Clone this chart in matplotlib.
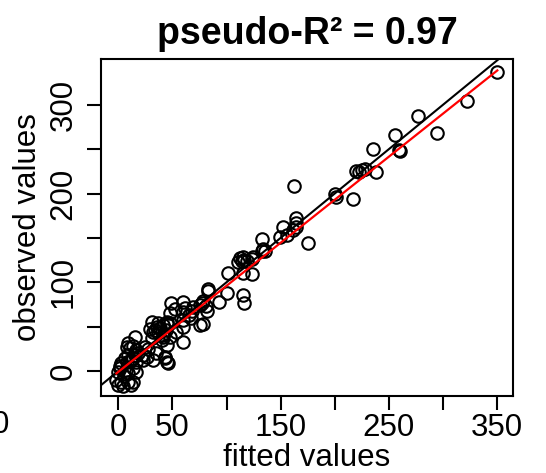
import numpy as np
import matplotlib.pyplot as plt

fitted = [350.3, 322.6, 276.7, 294.8, 255.7, 235.1, 259.4, 260.4, 219.7, 222.5,
          225.2, 228.0, 238.2, 200.3, 200.9, 216.9, 162.4, 163.8, 163.8, 164.2,
          161.2, 152.2, 155.5, 149.4, 175.6, 132.5, 134.0, 132.8, 136.0, 124.8,
          115.5, 112.5, 110.9, 114.0, 116.5, 118.7, 123.3, 101.1, 115.5, 123.3,
          115.5, 115.9, 100.2, 93.3, 83.2, 82.9, 78.6, 77.6, 81.1, 82.3,
          78.6, 67.8, 65.6, 66.9, 60.1, 60.1, 48.4, 47.8, 60.1, 47.8,
          60.1, 45.3, 44.7, 41.6, 47.8, 37.0, 35.5, 38.5, 33.9, 32.3,
          30.9, 29.3, 30.9, 41.6, 40.1, 44.7, 24.7, 27.7, 23.1, 26.2,
          23.1, 32.3, 44.7, 46.2, 43.2, 15.4, 9.2, 7.8, 10.8, 13.9,
          16.6, 18.2, 9.0, 12.0, 16.6, 5.9, 2.8, 1.3, -0.3, 7.4,
          13.6, 9.0, 16.6, -1.8, 2.8, 9.0, 13.6, -0.3, 4.3, 12.0,
          35.1, 42.9, 7.6, 15.4, 13.9, 1.6, 5.3, 52.1, 61.4, 69.0,
          75.2, 75.2, 53.6, 59.8, 36.7, 41.3, 44.4]
observed = [337.1, 304.7, 288.0, 267.8, 266.3, 250.8, 249.2, 248.0, 225.5, 224.7,
            226.6, 227.2, 224.4, 199.2, 195.6, 193.9, 208.9, 171.9, 166.3, 161.8,
            159.0, 162.0, 153.0, 151.4, 144.6, 148.6, 137.5, 134.7, 135.8, 128.0,
            128.2, 127.1, 123.2, 124.0, 124.6, 124.3, 125.9, 110.1, 110.1, 108.8,
            85.1, 77.0, 87.6, 78.1, 92.4, 90.5, 79.3, 76.3, 73.3, 67.6,
            53.2, 68.0, 63.1, 59.4, 77.8, 66.9, 76.7, 65.0, 57.5, 38.7,
            33.0, 55.6, 53.0, 51.9, 53.8, 53.8, 49.9, 48.1, 46.2, 44.3,
            55.6, 47.0, 36.9, 38.7, 34.9, 29.3, 27.4, 24.8, 18.0, 16.1,
            12.4, 12.4, 10.5, 8.7, 16.1, 38.7, 31.2, 27.4, 25.6, 28.2,
            23.7, 20.0, 18.0, 12.4, 10.5, 14.3, 8.7, 3.0, -0.8, 1.1,
            3.0, -2.6, -0.8, -10.1, -12.1, -12.1, -12.1, -15.8, -16.9, -15.8,
            20.0, 14.3, 10.1, 18.0, 14.3, 5.6, -5.6, 69.6, 70.7, 72.5,
            74.4, 51.9, 44.3, 49.9, 42.5, 40.6, 46.2]

# red fitted line (observed ~ fitted)
fit_intercept = -1.0
fit_slope = 0.97

xticks = [0, 50, 100, 150, 200, 250, 300, 350]
xticklabels = ['0', '50', '', '150', '', '250', '', '350']
yticks = [0, 50, 100, 150, 200, 250, 300]
yticklabels = ['0', '', '100', '', '200', '', '300']

plt.rcParams['font.family'] = ['Liberation Sans', 'DejaVu Sans']

fig = plt.figure(figsize=(5.46, 4.73), dpi=100)
ax = fig.add_axes([101/546, 1 - 396/473, 412/546, 337/473])

ax.plot(fitted, observed, 'o', mfc='none', mec='black', ms=9, mew=1.5)
ax.axline((0, 0), slope=1, color='black', lw=1.5)
xs = np.array([min(fitted), max(fitted)])
ax.plot(xs, fit_intercept + fit_slope*xs, color='red', lw=1.6)

ax.set_xlim(-16, 364.8)
ax.set_ylim(-28.2, 351.7)

for s in ax.spines.values():
  s.set_linewidth(1.5)

ax.tick_params(length=10, width=1.5, labelsize=22.5, direction='out')
ax.tick_params(axis='x', pad=2)
ax.tick_params(axis='y', pad=6)
ax.set_xticks(xticks)
ax.set_xticklabels(xticklabels)
ax.set_yticks(yticks)
ax.set_yticklabels(yticklabels, rotation=90, va='center')

ax.set_xlabel('fitted values', fontsize=22.5)
ax.xaxis.set_label_coords(0.5, (396 - 458)/337)
ax.xaxis.label.set_va('center')
ax.set_ylabel('observed values', fontsize=22.5)
ax.yaxis.set_label_coords((28 - 101)/412, 0.5)
ax.yaxis.label.set_va('center')

ax.text(0.5, (396 - 44)/337, 'pseudo-R\u00b2 = 0.97', transform=ax.transAxes,
        ha='center', va='baseline', fontsize=27, fontweight='bold')

# clipped label from the neighbouring panel
fig.text(0.0, 1 - 425/473, '0', ha='center', va='center', fontsize=22.5)

fig.savefig('out.png', dpi=100)
